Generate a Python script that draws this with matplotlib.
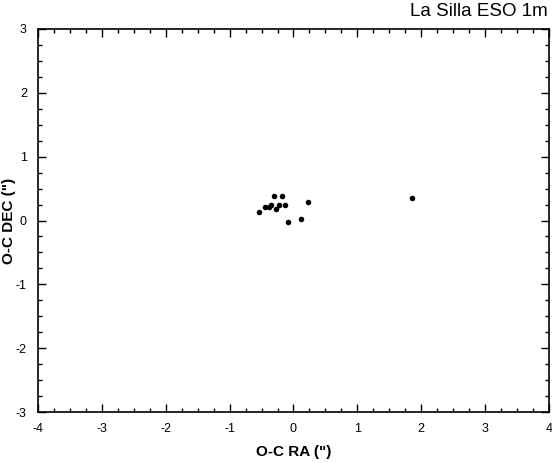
import numpy as np
import matplotlib
matplotlib.use('Agg')
import matplotlib.pyplot as plt
from matplotlib.ticker import MultipleLocator

# O-C residuals in arcsec
ra_oc = [-0.31, -0.18, 0.22, -0.45, -0.39, -0.36, -0.22, -0.14, -0.27, -0.54, -0.08, 0.12, 1.85]
dec_oc = [0.38, 0.38, 0.29, 0.21, 0.21, 0.24, 0.25, 0.24, 0.18, 0.14, -0.03, 0.02, 0.35]

title = 'La Silla ESO 1m'

plt.rcParams['font.family'] = ['Liberation Sans', 'DejaVu Sans']
plt.rcParams['axes.unicode_minus'] = False

fig = plt.figure(figsize=(5.52, 4.63), dpi=100)
ax = fig.add_axes([0.0688, 0.110, 0.9258, 0.8274])

ax.plot(ra_oc, dec_oc, 'o', color='black', markersize=4, markeredgewidth=0)

ax.set_xlim(-4, 4)
ax.set_ylim(-3, 3)
ax.xaxis.set_major_locator(MultipleLocator(1))
ax.yaxis.set_major_locator(MultipleLocator(1))
ax.xaxis.set_minor_locator(MultipleLocator(0.25))
ax.yaxis.set_minor_locator(MultipleLocator(0.25))
ax.tick_params(which='both', direction='in', top=True, right=True, labelsize=9, width=1)
ax.tick_params(which='major', length=6)
ax.tick_params(which='minor', length=3)
ax.tick_params(axis='x', which='major', pad=8)
ax.tick_params(axis='y', which='major', pad=8)
for s in ax.spines.values():
    s.set_linewidth(1.2)

ax.set_xlabel('O-C RA (")', fontsize=11, fontweight='bold', labelpad=7)
ax.set_ylabel('O-C DEC (")', fontsize=11, fontweight='bold', labelpad=0)
fig.text(0.993, 0.975, title, ha='right', va='center', fontsize=13.5)

fig.savefig('out.png', dpi=100)
